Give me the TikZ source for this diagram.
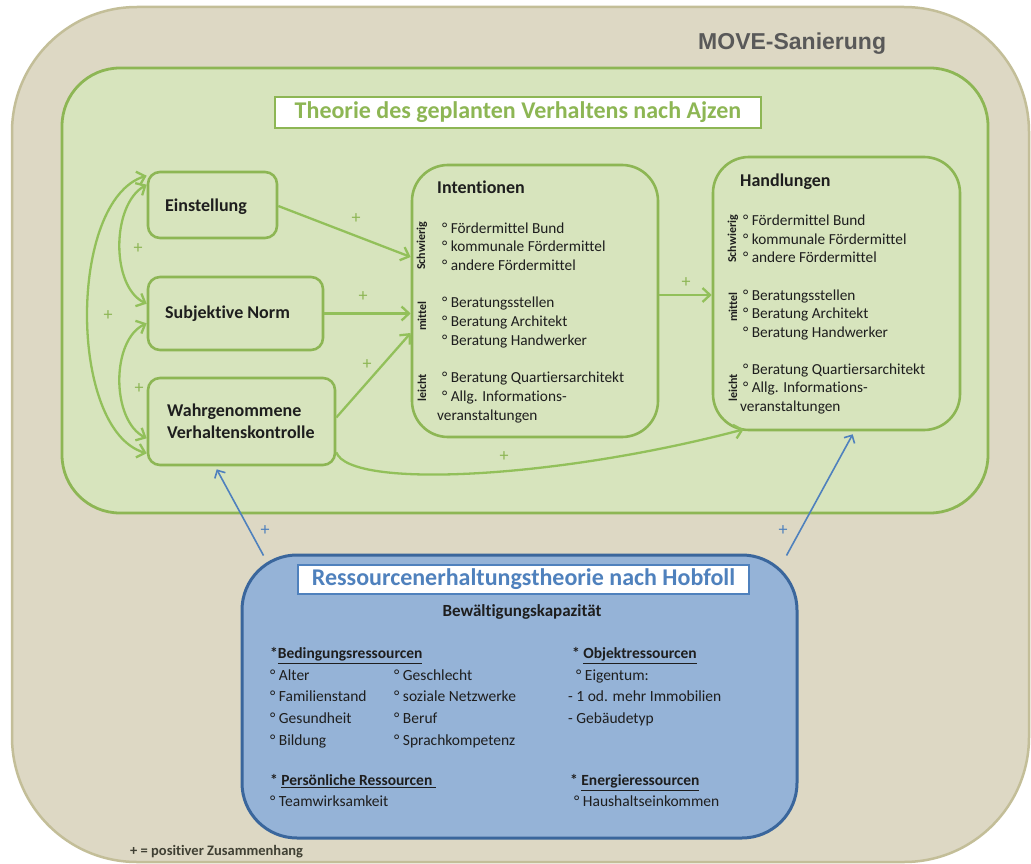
\documentclass[tikz,border=0pt]{standalone}
\usepackage{fontspec}
\setmainfont{Carlito}[Ligatures=NoCommon]
\newfontfamily\arialfont{Liberation Sans}
\usetikzlibrary{arrows.meta,calc}

\definecolor{outerfill}{HTML}{DDD8C4}
\definecolor{outerline}{HTML}{C3BE98}
\definecolor{panelgreen}{HTML}{D7E4BD}
\definecolor{boxgreen}{HTML}{8DB654}
\definecolor{arrowgreen}{HTML}{92C05A}
\definecolor{bluefill}{HTML}{95B3D7}
\definecolor{blueline}{HTML}{3A669C}
\definecolor{bluearrow}{HTML}{4F81BD}
\definecolor{inktext}{HTML}{1E1E1E}
\definecolor{movegray}{HTML}{595959}
\definecolor{notegray}{HTML}{3F3F33}

\tikzset{
  gbarb/.tip={Straight Barb[length=7.5pt,width=14pt]},
  bbarb/.tip={Straight Barb[length=6pt,width=12pt]}
}

\begin{document}
\begin{tikzpicture}[x=1pt,y=-1pt,
  gbox/.style={draw=boxgreen, line width=2.6pt, fill=panelgreen, inner sep=0pt},
  factor/.style={gbox, rounded corners=12pt},
  stage/.style={gbox, rounded corners=36pt},
  boxlabel/.style={font=\bfseries\fontsize{18}{22}\selectfont, text=inktext, inner sep=0pt, anchor=west, text height=13pt, text depth=4pt},
  stagehead/.style={font=\bfseries\fontsize{18}{22}\selectfont, text=inktext, inner sep=0pt, anchor=west, text height=13pt, text depth=4pt},
  item/.style={font=\fontsize{15.3}{18}\selectfont, text=inktext, inner sep=0pt, anchor=west, text height=11pt, text depth=3.5pt},
  ritem/.style={font=\fontsize{15.5}{18}\selectfont, text=inktext, inner sep=0pt, anchor=west, text height=11pt, text depth=3.5pt},
  rhead/.style={font=\bfseries\fontsize{15.5}{18}\selectfont, text=inktext, inner sep=0pt, anchor=west, text height=11pt, text depth=3.5pt},
  level/.style={font=\bfseries\fontsize{12}{14}\selectfont, text=inktext, inner sep=0pt, rotate=90},
  gplus/.style={font=\fontsize{18}{18}\selectfont, text=boxgreen, inner sep=0pt},
  bplus/.style={font=\fontsize{18}{18}\selectfont, text=bluearrow, inner sep=0pt},
  garrow/.style={draw=arrowgreen, line width=2.3pt, -gbarb},
  gboth/.style={draw=arrowgreen, line width=2.3pt, gbarb-gbarb},
  barrow/.style={draw=bluearrow, line width=1.6pt, -bbarb}
]
\useasboundingbox (0,0) rectangle (1031,864);

% outer frame of the project
\node[draw=outerline, fill=outerfill, line width=2.5pt, rounded corners=125pt,
      minimum width=1017pt, minimum height=855pt, inner sep=0pt] (move) at (520.5,434.5) {};
\node[font=\arialfont\bfseries\fontsize{23}{26}\selectfont, text=movegray, inner sep=0pt, anchor=base west]
  (movetitle) at (698,50) {MOVE-Sanierung};

% theory of planned behaviour panel
\node[draw=boxgreen, fill=panelgreen, line width=2.8pt, rounded corners=58pt,
      minimum width=926pt, minimum height=445pt, inner sep=0pt] (tpb) at (525,290.5) {};
\node[draw=boxgreen, fill=white, line width=2.2pt, minimum width=486pt, minimum height=31pt,
      inner sep=0pt, font=\bfseries\fontsize{24}{28}\selectfont, text=boxgreen]
  (tpbtitle) at (518,112.5) {Theorie des geplanten Verhaltens nach Ajzen};

% predictor boxes
\node[factor, minimum width=129pt, minimum height=66pt] (einst) at (212.5,205) {};
\node[factor, minimum width=175pt, minimum height=73pt] (subj) at (235.5,313.5) {};
\node[factor, minimum width=187pt, minimum height=87pt] (wahr) at (241.5,421.5) {};
\node[boxlabel] (einstL) at (165,207) {Einstellung};
\node[boxlabel] (subjL) at (165,314) {Subjektive Norm};
\node[boxlabel] (wahrL1) at (167,412) {Wahrgenommene};
\node[boxlabel] (wahrL2) at (167,434) {Verhaltenskontrolle};

% intentions and actions
\node[stage, minimum width=246pt, minimum height=272pt] (intent) at (535,301) {};
\node[stage, minimum width=247pt, minimum height=273pt] (handl) at (836.5,293.5) {};
\node[stagehead] (intentL) at (437,189) {Intentionen};
\node[stagehead] (handlL) at (740,182) {Handlungen};

\foreach \yy/\txt [count=\i] in {
  230/{° Fördermittel Bund}, 248/{° kommunale Fördermittel}, 267/{° andere Fördermittel},
  304/{° Beratungsstellen}, 323/{° Beratung Architekt}, 342/{° Beratung Handwerker},
  379/{° Beratung Quartiersarchitekt}, 398/{° Allg. Informations-}}
  \node[item] (int\i) at (442,\yy) {\txt};
\node[item] (int9) at (437,417) {veranstaltungen};

\foreach \yy/\txt [count=\i] in {
  222/{° Fördermittel Bund}, 241/{° kommunale Fördermittel}, 259/{° andere Fördermittel},
  297/{° Beratungsstellen}, 315/{° Beratung Architekt}, 334/{° Beratung Handwerker},
  371/{° Beratung Quartiersarchitekt}, 389/{° Allg. Informations-}}
  \node[item] (hdl\i) at (743,\yy) {\txt};
\node[item] (hdl9) at (740,408) {veranstaltungen};

\node[level] (intS) at (422,246) {Schwierig};
\node[level] (intM) at (422,316) {mittel};
\node[level] (intL) at (422,388) {leicht};
\node[level] (hdlS) at (733,239) {Schwierig};
\node[level] (hdlM) at (733,307) {mittel};
\node[level] (hdlL) at (733,388) {leicht};

% correlations among the predictors
\draw[gboth] ($(einst.north west)+(0,5)$) .. controls (68,200) and (68,430) .. ($(wahr.south west)+(0,-13)$);
\draw[gboth] ($(einst.north west)+(0,14)$) .. controls (111,205) and (111,287) .. ($(subj.north west)+(0,28)$);
\draw[gboth] ($(subj.south west)+(0,-28)$) .. controls (111,340) and (111,420) .. ($(wahr.south west)+(0,-28)$);
\node[gplus] (p1) at (138,249) {+};
\node[gplus] (p2) at (108,316) {+};
\node[gplus] (p3) at (139,389) {+};

% paths into intentions and actions
\draw[garrow] ($(einst.east)+(0,1)$) -- ($(intent.west)+(0,-44)$);
\draw[garrow] (subj.east) -- (subj.east -| intent.west);
\draw[garrow] ($(wahr.east)+(0,-4)$) -- ($(intent.west)+(0,32)$);
\draw[garrow] ($(intent.east)+(0,-6)$) -- ($(handl.west)+(0,1.5)$);
\draw[garrow] ($(wahr.south east)+(0,-14)$) .. controls (350,490) and (560,478) .. ($(handl.south west)+(32,-2)$);
\node[gplus] (p4) at (356,219) {+};
\node[gplus] (p5) at (363,297) {+};
\node[gplus] (p6) at (367,365) {+};
\node[gplus] (p7) at (686,283) {+};
\node[gplus] (p8) at (504,457) {+};

% conservation of resources panel
\node[draw=blueline, fill=bluefill, line width=3pt, rounded corners=55pt,
      minimum width=555pt, minimum height=283pt, inner sep=0pt] (cor) at (519.5,696.5) {};
\node[draw=bluearrow, fill=white, line width=2pt, minimum width=451pt, minimum height=29pt,
      inner sep=0pt, font=\bfseries\fontsize{24}{28}\selectfont, text=bluearrow]
  (cortitle) at (523.5,579.5) {Ressourcenerhaltungstheorie nach Hobfoll};
\node[font=\bfseries\fontsize{17}{20}\selectfont, text=inktext, inner sep=0pt,
      text height=12pt, text depth=4pt] (bew) at (522,612) {Bewältigungskapazität};

\node[rhead] (bed) at (270,655) {*\underline{Bedingungsressourcen}};
\foreach \yy/\txt [count=\i] in {677/{° Alter}, 698/{° Familienstand}, 720/{° Gesundheit}, 742/{° Bildung}}
  \node[ritem] (bedA\i) at (270,\yy) {\txt};
\foreach \yy/\txt [count=\i] in {677/{° Geschlecht}, 698/{° soziale Netzwerke}, 720/{° Beruf}, 742/{° Sprachkompetenz}}
  \node[ritem] (bedB\i) at (394,\yy) {\txt};
\node[rhead] (pers) at (270,782) {* \underline{Persönliche Ressourcen }};
\node[ritem] (pers1) at (270,803) {° Teamwirksamkeit};

\node[rhead] (obj) at (572,655) {* \underline{Objektressourcen}};
\node[ritem] (obj1) at (576,677) {° Eigentum:};
\node[ritem] (obj2) at (568,698) {- 1 od. mehr Immobilien};
\node[ritem] (obj3) at (568,720) {- Gebäudetyp};
\node[rhead] (ene) at (570,782) {* \underline{Energieressourcen}};
\node[ritem] (ene1) at (574,803) {° Haushaltseinkommen};

% resources feeding back into the model
\draw[barrow] ($(cor.north west)+(23,2)$) -- ($(wahr.south west)+(70,3)$);
\draw[barrow] ($(cor.north east)+(-12,2)$) -- ($(handl.south west)+(141,3)$);
\node[bplus] (p9) at (265,531) {+};
\node[bplus] (p10) at (783,531) {+};

% legend
\node[font=\bfseries\fontsize{14.5}{17}\selectfont, text=notegray, inner sep=0pt, anchor=west,
      text height=10pt, text depth=3pt] (legend) at (130,852) {+ = positiver Zusammenhang};
\end{tikzpicture}
\end{document}
